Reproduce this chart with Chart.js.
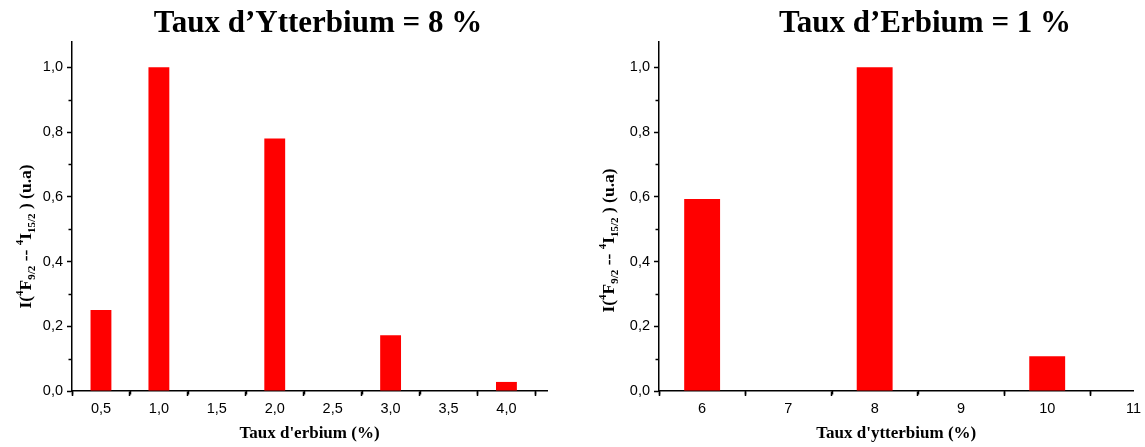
<!DOCTYPE html>
<html>
<head>
<meta charset="utf-8">
<script src="https://cdn.jsdelivr.net/npm/chart.js@4.4.1/dist/chart.umd.min.js"></script>
<style>
  html, body { margin: 0; padding: 0; background: #fff; }
  #wrap { position: relative; width: 1145px; height: 447px; overflow: hidden; background: #fff; }
  .box { position: absolute; top: 0; height: 447px; }
</style>
</head>
<body>
<div id="wrap">
  <div class="box" style="left:0;width:580px;"><canvas id="c1" width="580" height="447"></canvas></div>
  <div class="box" style="left:580px;width:565px;"><canvas id="c2" width="565" height="447"></canvas></div>
</div>
<script>
// ---------- Data ----------
const erbiumRates = [0.5, 1.0, 2.0, 3.0, 4.0];            // Taux d'erbium (%)
const intensityYb8 = [0.25, 1.0, 0.78, 0.172, 0.028];      // normalized intensity, Yb = 8 %
const ytterbiumRates = [6, 8, 10];                         // Taux d'ytterbium (%)
const intensityEr1 = [0.593, 1.0, 0.107];                  // normalized intensity, Er = 1 %

const yTicks = [0.0, 0.2, 0.4, 0.6, 0.8, 1.0];
const yMinorTicks = [0.1, 0.3, 0.5, 0.7, 0.9];
const xTicksLeft = [0.5, 1.0, 1.5, 2.0, 2.5, 3.0, 3.5, 4.0];
const xMinorLeft = [0.25, 0.75, 1.25, 1.75, 2.25, 2.75, 3.25, 3.75, 4.25];
const xTicksRight = [6, 7, 8, 9, 10, 11];
const xMinorRight = [5.5, 6.5, 7.5, 8.5, 9.5, 10.5];

const titleLeft = "Taux d\u2019Ytterbium = 8 %";
const titleRight = "Taux d\u2019Erbium = 1 %";
const xTitleLeft = "Taux d'erbium (%)";
const xTitleRight = "Taux d'ytterbium (%)";
// y label pieces: [text, kind]
const yLabelParts = [["I(", "n"], ["4", "sup"], ["F", "n"], ["9/2", "sub"], [" -- ", "n"], ["4", "sup"], ["I", "n"], ["15/2", "sub"], [" ) (u.a)", "n"]];

const comma = (v, d) => v.toFixed(d).replace('.', ',');

// ---------- Plugins ----------
const decorPlugin = {
  id: 'decor',
  afterDraw(chart, args, opts) {
    const ctx = chart.ctx;
    const ca = chart.chartArea;
    ctx.save();
    // minor ticks
    ctx.strokeStyle = '#000';
    ctx.lineWidth = 1.5;
    const xs = chart.scales.x, ys = chart.scales.y;
    (opts.xMinor || []).forEach(v => {
      const px = Math.round(xs.getPixelForValue(v)) + 0.5;
      ctx.beginPath(); ctx.moveTo(px, ca.bottom); ctx.lineTo(px, ca.bottom + 3.5); ctx.stroke();
    });
    (opts.yMinor || []).forEach(v => {
      const py = Math.round(ys.getPixelForValue(v)) + 0.5;
      ctx.beginPath(); ctx.moveTo(ca.left, py); ctx.lineTo(ca.left - 3.5, py); ctx.stroke();
    });
    // title
    ctx.fillStyle = '#000';
    ctx.font = 'bold 31px "Liberation Serif", "Times New Roman", serif';
    ctx.textAlign = 'center';
    ctx.textBaseline = 'alphabetic';
    ctx.fillText(opts.title, ca.left + opts.titleDx, 32);
    // rotated y label with super/subscripts
    const main = 17.5, small = 11;
    const fMain = `bold ${main}px "Liberation Serif", "Times New Roman", serif`;
    const fSmall = `bold ${small}px "Liberation Serif", "Times New Roman", serif`;
    let total = 0;
    const widths = yLabelParts.map(([t, k]) => {
      ctx.font = k === 'n' ? fMain : fSmall;
      const w = ctx.measureText(t).width;
      total += w;
      return w;
    });
    ctx.translate(ca.left - opts.yLabelDx, (ca.top + ca.bottom) / 2 + opts.yLabelDy);
    ctx.rotate(-Math.PI / 2);
    ctx.textAlign = 'left';
    ctx.textBaseline = 'alphabetic';
    let x = -total / 2;
    const base = 6;
    yLabelParts.forEach(([t, k], i) => {
      ctx.font = k === 'n' ? fMain : fSmall;
      let y = base;
      if (k === 'sup') y = base - 8;
      if (k === 'sub') y = base + 4;
      ctx.fillText(t, x, y);
      x += widths[i];
    });
    ctx.restore();
  }
};

function makeChart(id, xs, ys, cfg) {
  const pts = xs.map((x, i) => ({ x: x, y: ys[i] }));
  return new Chart(document.getElementById(id), {
    type: 'bar',
    data: {
      datasets: [{
        data: pts,
        backgroundColor: '#ff0000',
        borderWidth: 0,
        categoryPercentage: 1.0,
        barPercentage: cfg.barPct
      }]
    },
    plugins: [decorPlugin],
    options: {
      responsive: false,
      animation: false,
      devicePixelRatio: 1,
      layout: { padding: { left: 0, right: cfg.padRight, top: 42, bottom: 0 } },
      plugins: {
        legend: { display: false },
        tooltip: { enabled: false },
        title: { display: false },
        decor: { title: cfg.title, titleDx: cfg.titleDx, yLabelDx: cfg.yLabelDx, yLabelDy: cfg.yLabelDy, xMinor: cfg.xMinor, yMinor: yMinorTicks }
      },
      scales: {
        x: {
          type: 'linear',
          offset: false,
          min: cfg.xMin, max: cfg.xMax,
          afterBuildTicks: s => { s.ticks = cfg.xTicks.map(v => ({ value: v })); },
          afterFit: s => { s.height = 56; },
          border: { display: true, color: '#000', width: 1.5 },
          grid: { display: true, drawOnChartArea: false, drawTicks: true, tickLength: 5, tickColor: '#000', tickWidth: 1.5 },
          ticks: {
            color: '#000',
            padding: 4,
            maxRotation: 0,
            autoSkip: false,
            font: { family: '"Liberation Sans", Arial, sans-serif', size: 14.5 },
            callback: v => cfg.xDec ? comma(v, 1) : String(v)
          },
          title: {
            display: true,
            text: cfg.xTitle,
            color: '#000',
            font: { family: '"Liberation Serif", "Times New Roman", serif', size: 17, weight: 'bold' },
            padding: { top: 4, bottom: 3 }
          }
        },
        y: {
          type: 'linear',
          min: 0, max: 1.078,
          afterBuildTicks: s => { s.ticks = yTicks.map(v => ({ value: v })); },
          afterFit: s => { s.width = cfg.yWidth; },
          border: { display: true, color: '#000', width: 1.5 },
          grid: { display: true, drawOnChartArea: false, drawTicks: true, tickLength: 5, tickColor: '#000', tickWidth: 1.5 },
          ticks: {
            color: '#000',
            padding: 4,
            font: { family: '"Liberation Sans", Arial, sans-serif', size: 14.5 },
            callback: v => comma(v, 1)
          },
          title: { display: false }
        }
      }
    }
  });
}

makeChart('c1', erbiumRates, intensityYb8, {
  barPct: 0.36, padRight: 33, yWidth: 72, xMin: 0.25, xMax: 4.35,
  xTicks: xTicksLeft, xMinor: xMinorLeft, xDec: true,
  xTitle: xTitleLeft, title: titleLeft, titleDx: 246, yLabelDx: 47, yLabelDy: 20
});
makeChart('c2', ytterbiumRates, intensityEr1, {
  barPct: 0.416, padRight: 10, yWidth: 79, xMin: 5.5, xMax: 11,
  xTicks: xTicksRight, xMinor: xMinorRight, xDec: false,
  xTitle: xTitleRight, title: titleRight, titleDx: 266, yLabelDx: 51, yLabelDy: 24
});
</script>
</body>
</html>
